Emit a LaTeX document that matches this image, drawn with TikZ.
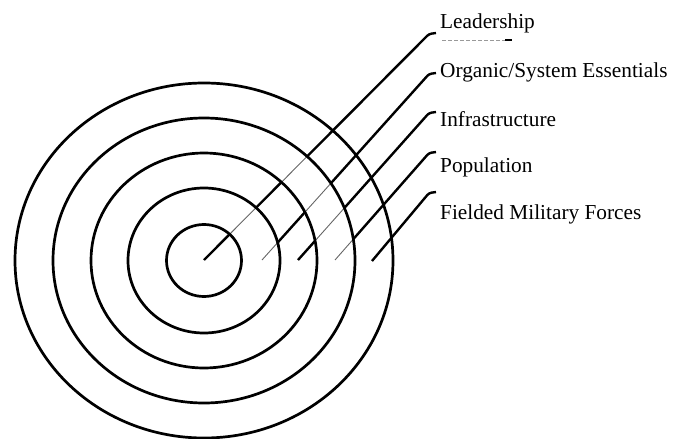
\documentclass[tikz,border=0pt]{standalone}
\usepackage{fontspec}
\setmainfont{Liberation Serif}
\begin{document}
\begin{tikzpicture}[x=1pt,y=-1pt,
  ring/.style={line width=2.7pt},
  thinlead/.style={line width=0.9pt, draw=black!60},
  thicklead/.style={line width=2.4pt, rounded corners=2.5pt},
  lbl/.style={anchor=base west, inner sep=0pt, font=\fontsize{21.3}{25}\selectfont}]
\useasboundingbox (0,0) rectangle (683,439);
\coordinate (c) at (204,260.5);
% start points
\coordinate (s1) at (204,260);
\coordinate (s2) at (262,260);
\coordinate (s3) at (298,260);
\coordinate (s4) at (335,260);
\coordinate (s5) at (372,261);
% hook corners
\coordinate (h1) at (429,34);
\coordinate (h2) at (429,74);
\coordinate (h3) at (429,113);
\coordinate (h4) at (429,153);
\coordinate (h5) at (429,193);
% hook ends
\coordinate (e1) at (436,33);
\coordinate (e2) at (436,73);
\coordinate (e3) at (436,112);
\coordinate (e4) at (436,152);
\coordinate (e5) at (436,192);
% labels
\node[lbl] (l1) at (440,28) {Leadership};
\node[lbl] (l2) at (440,77) {Organic/System Essentials};
\node[lbl] (l3) at (440,126) {Infrastructure};
\node[lbl] (l4) at (440,172) {Population};
\node[lbl] (l5) at (440,219) {Fielded Military Forces};
% faint dashed mark under Leadership
\coordinate (d1) at (442,40);
\coordinate (d2) at (505,40);
\coordinate (d3) at (512,40);
\draw[line width=0.8pt, draw=black!40, dash pattern=on 4pt off 2pt] (d1) -- (d2);
\draw[line width=1.2pt] (d2) -- (d3);
% thin leader lines
\foreach \k in {1,...,5} \draw[thinlead] (s\k) -- (h\k);
% thick parts of leader lines (odd rings and outside)
\begin{scope}[even odd rule]
\clip (-20,-20) rectangle (710,460)
  (c) ellipse [x radius=37.5, y radius=36]
  (c) ellipse [x radius=76, y radius=72.5]
  (c) ellipse [x radius=113, y radius=107.5]
  (c) ellipse [x radius=151, y radius=142.5];
\foreach \k in {1,...,5} \draw[thicklead] (s\k) -- (h\k) -- (e\k);
\end{scope}
% rings
\foreach \rx/\ry in {37.5/36,76/72.5,113/107.5,151/142.5,189/177.5}
  \draw[ring] (c) ellipse [x radius=\rx, y radius=\ry];
\end{tikzpicture}
\end{document}
